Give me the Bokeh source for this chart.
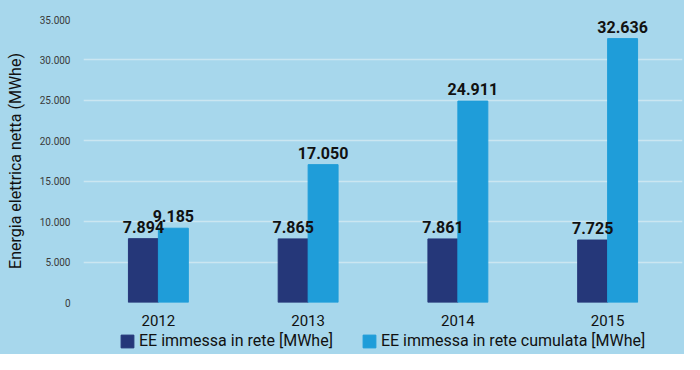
from bokeh.plotting import figure
from bokeh.layouts import column
from bokeh.models import (ColumnDataSource, FactorRange, Legend, LegendItem,
                          CustomJSTickFormatter, Range1d, LabelSet)
from bokeh.transform import dodge
from bokeh.core.properties import value
from bokeh.embed import file_html
from bokeh.resources import INLINE

years = ["2012", "2013", "2014", "2015"]
immessa = [7894, 7865, 7861, 7725]
cumulata = [9185, 17050, 24911, 32636]
y_ticks = [0, 5000, 10000, 15000, 20000, 25000, 30000, 35000]
series_names = ["EE immessa in rete [MWhe]", "EE immessa in rete cumulata [MWhe]"]

def fmt(v):
    return f"{v:,}".replace(",", ".")

src = ColumnDataSource(dict(
    years=years, immessa=immessa, cumulata=cumulata,
    lab_i=[fmt(v) for v in immessa], lab_c=[fmt(v) for v in cumulata],
))

BG = "#a7d7ec"
DARK = "#253779"
LIGHT = "#1f9dd9"
FONT = "Roboto"

xr = FactorRange(*years)
p = figure(x_range=xr, y_range=(0, 35000), width=684, height=328,
           output_backend="svg", toolbar_location=None,
           background_fill_color=BG, border_fill_color=BG,
           min_border_left=83, min_border_right=2, min_border_top=19, min_border_bottom=25)
p.outline_line_color = None

r1 = p.vbar(x=dodge("years", -0.1, range=xr), top="immessa", width=0.2, source=src,
            fill_color=DARK, line_color=DARK)
r2 = p.vbar(x=dodge("years", 0.1, range=xr), top="cumulata", width=0.2, source=src,
            fill_color=LIGHT, line_color=LIGHT)

for col, lab, dx in (("immessa", "lab_i", -0.1), ("cumulata", "lab_c", 0.1)):
    p.add_layout(LabelSet(x=dodge("years", dx, range=xr), y=col, text=lab, source=src,
                          text_align="center", text_baseline="alphabetic", y_offset=6,
                          text_font=value(FONT), text_font_style="bold", text_font_size="16px",
                          text_color="#111111"))

p.yaxis.ticker = y_ticks
p.yaxis.formatter = CustomJSTickFormatter(code="return tick.toFixed(0).replace(/\\B(?=(\\d{3})+(?!\\d))/g, '.');")
p.yaxis.axis_line_color = None
p.yaxis.major_tick_line_color = None
p.yaxis.minor_tick_line_color = None
p.yaxis.major_label_text_font = FONT
p.yaxis.major_label_text_font_size = "10px"
p.yaxis.major_label_text_color = "#3a3a3a"
p.yaxis.major_label_standoff = 7
p.yaxis.axis_label = "Energia elettrica netta (MWhe)"
p.yaxis.axis_label_text_font = FONT
p.yaxis.axis_label_text_font_style = "normal"
p.yaxis.axis_label_text_font_size = "16px"
p.yaxis.axis_label_text_color = "#111111"
p.yaxis.axis_label_standoff = 12

p.xaxis.axis_line_color = None
p.xaxis.major_tick_line_color = None
p.xaxis.minor_tick_line_color = None
p.xaxis.major_label_text_font = FONT
p.xaxis.major_label_text_font_size = "15px"
p.xaxis.major_label_text_color = "#111111"
p.xaxis.major_label_standoff = 6

p.xgrid.grid_line_color = None
p.ygrid.grid_line_color = "#cbe6f1"
p.ygrid.grid_line_width = 1.5

# legend strip: its bars fall far outside its y-range, only the legend shows
lg = figure(width=684, height=26, output_backend="svg", toolbar_location=None,
            x_range=xr, y_range=Range1d(1e6, 2e6),
            x_axis_type=None, y_axis_type=None,
            background_fill_color=BG, border_fill_color=BG,
            min_border_left=83, min_border_right=2, min_border_top=0, min_border_bottom=0)
lg.outline_line_color = None
e1 = lg.vbar(x=dodge("years", -0.1, range=xr), top="immessa", width=0.2, source=src,
             fill_color=DARK, line_color=DARK)
e2 = lg.vbar(x=dodge("years", 0.1, range=xr), top="cumulata", width=0.2, source=src,
             fill_color=LIGHT, line_color=LIGHT)
legend = Legend(items=[LegendItem(label=series_names[0], renderers=[e1]),
                       LegendItem(label=series_names[1], renderers=[e2])],
                orientation="horizontal", location=(36, 4),
                background_fill_alpha=0, border_line_color=None,
                label_text_font=FONT, label_text_font_size="16px", label_text_color="#111111",
                glyph_width=16, glyph_height=16, spacing=28, label_standoff=4, padding=0, margin=0)
lg.add_layout(legend, "center")

layout = column(p, lg, spacing=0, styles={"background-color": BG})
open("out.html", "w").write(file_html(layout, INLINE))
